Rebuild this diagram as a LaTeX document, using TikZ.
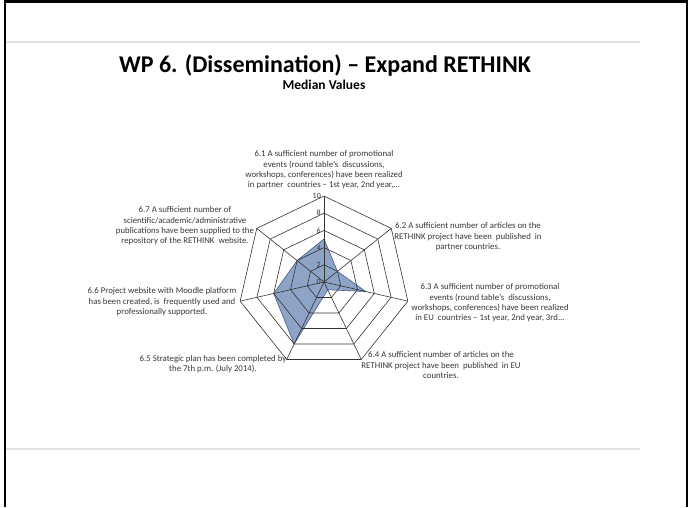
\documentclass[tikz,border=0pt]{standalone}
\usepackage{fontspec}
\setmainfont{Carlito}
\usetikzlibrary{positioning}
\definecolor{radarfill}{RGB}{141,164,199}
\definecolor{radaredge}{RGB}{70,94,134}
\definecolor{labelgray}{RGB}{55,55,55}
\definecolor{rulegray}{RGB}{225,225,225}
\newcommand{\radarpoint}[3]{ % Takes coordinate name, axis number (0 = top, clockwise), value as arguments
    \path (c) ++({90-#2*360/7}:{#3*8.6pt}) coordinate (#1);
}

\begin{document}
\begin{tikzpicture}[x=1pt, y=-1pt,
    gridline/.style={draw=black!80, line width=0.6pt},
    axistext/.style={font=\fontsize{8.8}{10.4}\selectfont, text=labelgray, align=center, inner sep=0pt},
    ticktext/.style={font=\fontsize{8}{9}\selectfont, text=labelgray, inner sep=0pt, anchor=east}]
        \useasboundingbox (0,0) rectangle (693,507);

        % Frame and slide rules
        \draw[line width=2.2pt] (5,507) -- (5,1.5) -- (687,1.5) -- (687,507);
        \draw[rulegray, line width=1.2pt] (6,42) -- (640,42);
        \draw[rulegray, line width=1.2pt] (6,449) -- (640,449);

        % Title
        \node (title) at (325,65) {\fontsize{24}{28}\selectfont\bfseries WP 6. (Dissemination) -- Expand RETHINK};
        \node (subtitle) at (324,85) {\fontsize{13.5}{15}\selectfont\bfseries Median Values};

        % Radar grid
        \coordinate (c) at (324,282);
        \foreach \r in {1,...,5} {
            \foreach \k in {0,...,6} {
                \radarpoint{r\r-\k}{\k}{2*\r}
            }
        }

        % Median values
        \foreach \val [count=\k from 0] in {5,2,5,1,8,6,4} {
            \radarpoint{d\k}{\k}{\val}
        }
        \draw[fill=radarfill, draw=radaredge, line width=0.6pt] (d0) -- (d1) -- (d2) -- (d3) -- (d4) -- (d5) -- (d6) -- cycle;

        \foreach \r in {1,...,5} {
            \draw[gridline] (r\r-0) -- (r\r-1) -- (r\r-2) -- (r\r-3) -- (r\r-4) -- (r\r-5) -- (r\r-6) -- cycle;
        }
        \foreach \k in {0,...,6} {
            \draw[gridline] (c) -- (r5-\k);
        }

        % Scale
        \foreach \v in {0,2,...,10} {
            \path (c) ++(-3pt,{\v*8.6pt}) node[ticktext] (t\v) {\v};
        }

        % Axis labels
        \node[axistext] (a1) at (324,170) {6.1 A sufficient number of promotional\\ events (round table's\ \ discussions,\\ workshops, conferences) have been realized\\ in partner\ \ countries -- 1st year, 2nd year,...};
        \node[axistext] (a2) at (468,237) {6.2 A sufficient number of articles on the\\ RETHINK project have been\ \ published\ \ in\\ partner countries.};
        \node[axistext] (a3) at (490,303) {6.3 A sufficient number of promotional\\ events (round table's\ \ discussions,\\ workshops, conferences) have been realized\\ in EU\ \ countries -- 1st year, 2nd year, 3rd...};
        \node[axistext] (a4) at (441,365) {6.4 A sufficient number of articles on the\\ RETHINK project have been\ \ published\ \ in EU\\ countries.};
        \node[axistext] (a5) at (213,364) {6.5 Strategic plan has been completed by\\ the 7th p.m. (July 2014).};
        \node[axistext] (a6) at (162,302) {6.6 Project website with Moodle platform\\ has been created, is\ \ frequently used and\\ professionally supported.};
        \node[axistext] (a7) at (185,226) {6.7 A sufficient number of\\ scientific/academic/administrative\\ publications have been supplied to the\\ repository of the RETHINK\ \ website.};
\end{tikzpicture}
\end{document}
